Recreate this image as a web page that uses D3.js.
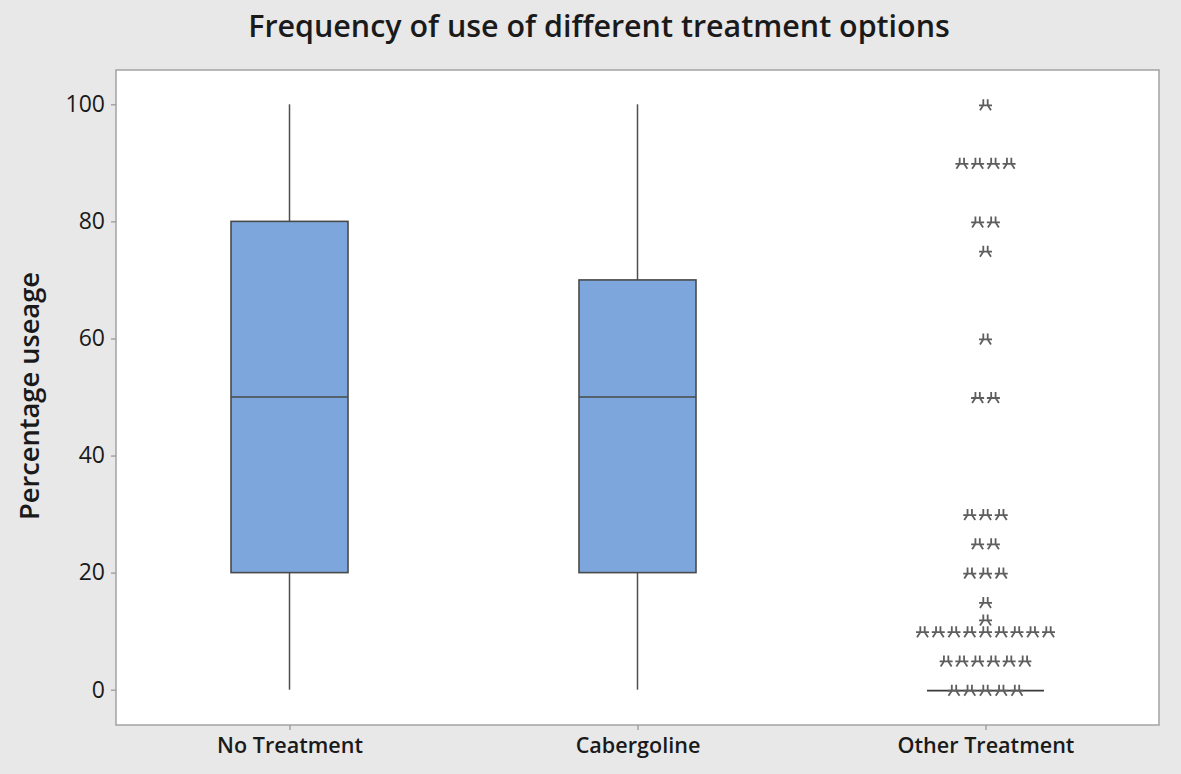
<!DOCTYPE html>
<html>
<head>
<meta charset="utf-8">
<script src="https://cdn.jsdelivr.net/npm/d3@7/dist/d3.min.js"></script>
<style>
  html, body { margin: 0; padding: 0; background: #e8e8e8; }
  svg { display: block; }
  text { font-family: "Open Sans", "Noto Sans", sans-serif; fill: #1a1a1a; }
</style>
</head>
<body>
<svg id="chart" width="1181" height="774"></svg>
<script>
// ---- data ----
const categories = ["No Treatment", "Cabergoline", "Other Treatment"];
const whiskerLow = [0, 0, 0];
const q1 = [20, 20, 0];
const median = [50, 50, 0];
const q3 = [80, 70, 0];
const whiskerHigh = [100, 100, 0];
// outliers (asterisks) for "Other Treatment": value and number of cases
const outlierValues = [100, 90, 80, 75, 60, 50, 30, 25, 20, 15, 12, 10, 5, 0];
const outlierCounts = [1, 4, 2, 1, 1, 2, 3, 2, 3, 1, 1, 9, 6, 5];
const outlierCategory = "Other Treatment";
const yTicks = [0, 20, 40, 60, 80, 100];
const titleText = "Frequency of use of different treatment options";
const yLabelText = "Percentage useage";

// ---- layout ----
const W = 1181, H = 774;
const plot = { left: 116, top: 70, right: 1159, bottom: 725 };
const svg = d3.select("#chart");

svg.append("rect").attr("x", 0).attr("y", 0).attr("width", W).attr("height", H).attr("fill", "#e8e8e8");

const y = d3.scaleLinear().domain([0, 100]).range([689.7, 104.3]);
const x = d3.scalePoint().domain(categories).range([289.5, 985.5]);
const boxW = 117;

// plot area
svg.append("rect")
  .attr("x", plot.left).attr("y", plot.top)
  .attr("width", plot.right - plot.left).attr("height", plot.bottom - plot.top)
  .attr("fill", "#ffffff").attr("stroke", "#a3a3a3").attr("stroke-width", 1.5);

// y axis
const yAxis = d3.axisLeft(y).tickValues(yTicks).tickSize(5).tickPadding(6);
const yg = svg.append("g").attr("transform", `translate(${plot.left},0)`).call(yAxis);
yg.select(".domain").remove();
yg.selectAll(".tick line").attr("stroke", "#9a9a9a").attr("stroke-width", 1.3);
yg.selectAll(".tick text").attr("font-size", 23).attr("fill", "#1a1a1a")
  .style("font-family", "'Open Sans', sans-serif");

// x axis
const xAxis = d3.axisBottom(x).tickSize(5).tickPadding(8);
const xg = svg.append("g").attr("transform", `translate(0,${plot.bottom})`).call(xAxis);
xg.select(".domain").remove();
xg.selectAll(".tick line").attr("stroke", "#9a9a9a").attr("stroke-width", 1.3);
xg.selectAll(".tick text").attr("font-size", 20).attr("font-weight", 600).attr("fill", "#1a1a1a")
  .attr("dy", "0.71em")
  .style("font-family", "'Open Sans', sans-serif");

// boxes
const boxes = categories.map((c, i) => ({ c, lo: whiskerLow[i], q1: q1[i], med: median[i], q3: q3[i], hi: whiskerHigh[i] }));
const bg = svg.append("g");
boxes.forEach(b => {
  const cx = x(b.c);
  if (b.q3 > b.q1) {
    bg.append("line").attr("x1", cx).attr("x2", cx).attr("y1", y(b.hi)).attr("y2", y(b.q3))
      .attr("stroke", "#4f4f4f").attr("stroke-width", 1.5);
    bg.append("line").attr("x1", cx).attr("x2", cx).attr("y1", y(b.q1)).attr("y2", y(b.lo))
      .attr("stroke", "#4f4f4f").attr("stroke-width", 1.5);
    bg.append("rect").attr("x", cx - boxW / 2).attr("y", y(b.q3))
      .attr("width", boxW).attr("height", y(b.q1) - y(b.q3))
      .attr("fill", "#7da6dc").attr("stroke", "#4a4a4a").attr("stroke-width", 1.6);
    bg.append("line").attr("x1", cx - boxW / 2).attr("x2", cx + boxW / 2)
      .attr("y1", y(b.med)).attr("y2", y(b.med))
      .attr("stroke", "#4a4a4a").attr("stroke-width", 1.6);
  } else {
    bg.append("line").attr("x1", cx - boxW / 2).attr("x2", cx + boxW / 2)
      .attr("y1", y(b.med) + 1).attr("y2", y(b.med) + 1)
      .attr("stroke", "#3a3a3a").attr("stroke-width", 1.7);
  }
});

// outlier asterisks
const starPath = "M-6.5,0L6.5,0M-2.2,-6L-2.2,0L-5.5,5M2.2,-6L2.2,0L5.5,5";
const spacing = 15.75;
const og = svg.append("g");
outlierValues.forEach((v, i) => {
  const n = outlierCounts[i];
  const cx = x(outlierCategory);
  for (let k = 0; k < n; k++) {
    const px = cx + (k - (n - 1) / 2) * spacing;
    og.append("path").attr("d", starPath)
      .attr("transform", `translate(${px},${y(v) + 1})`)
      .attr("fill", "none").attr("stroke", "#5e5e5e").attr("stroke-width", 1.8);
  }
});

// fit text to a target width
function fit(sel, target) {
  const w = sel.node().getComputedTextLength();
  const fs = parseFloat(sel.attr("font-size"));
  sel.attr("font-size", fs * target / w);
}

// title
const title = svg.append("text").attr("x", 599).attr("y", 37).attr("text-anchor", "middle")
  .attr("font-size", 24).attr("font-weight", 600).attr("fill", "#1a1a1a").text(titleText);
fit(title, 702);

// y label
const yl = svg.append("text").attr("transform", "translate(39,396) rotate(-90)")
  .attr("text-anchor", "middle").attr("font-size", 23).attr("font-weight", 600)
  .attr("fill", "#1a1a1a").text(yLabelText);
fit(yl, 248);

// x labels fit
xg.selectAll(".tick text").each(function (d) {
  const t = d3.select(this);
  if (d === "Other Treatment") fit(t, 177);
});
const fsx = xg.selectAll(".tick text").filter(d => d === "Other Treatment").attr("font-size");
xg.selectAll(".tick text").attr("font-size", fsx);
</script>
</body>
</html>
